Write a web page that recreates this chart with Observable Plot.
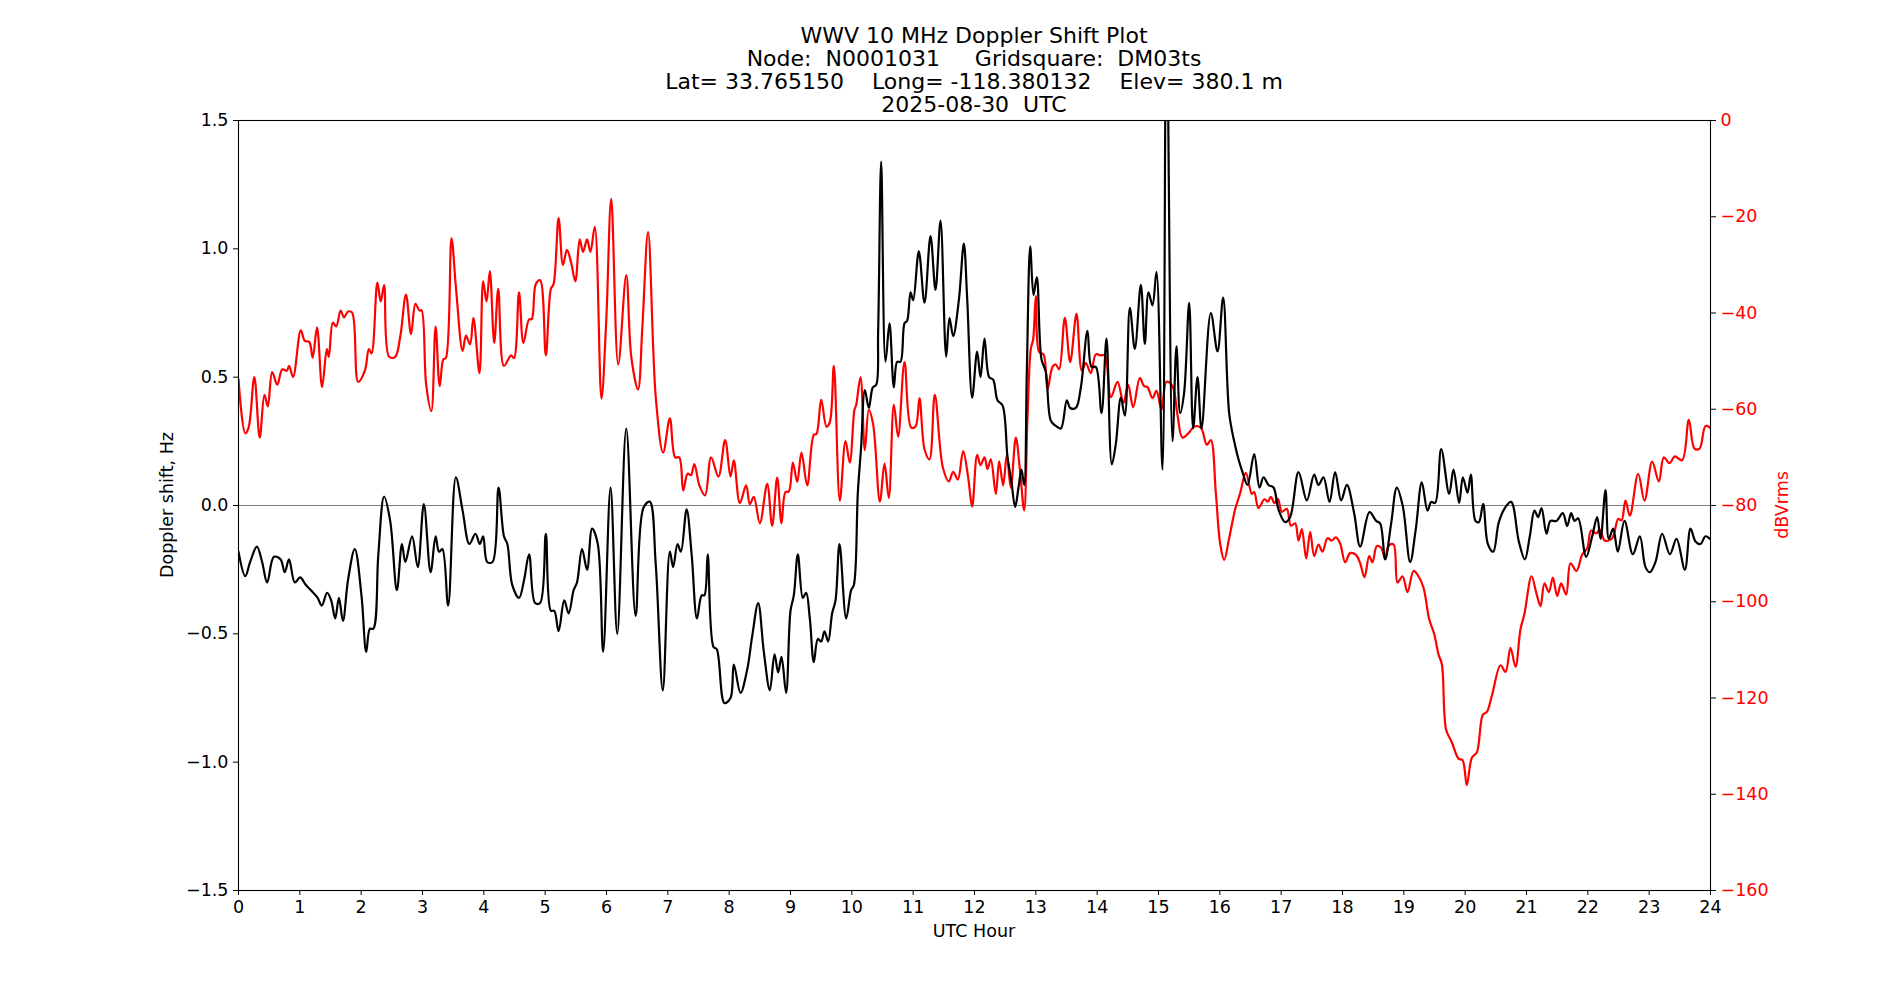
<!DOCTYPE html>
<html>
<head>
<meta charset="utf-8">
<script src="https://cdn.jsdelivr.net/npm/d3@7"></script>
<script src="https://cdn.jsdelivr.net/npm/@observablehq/plot@0.6"></script>
<style>
  html, body { margin: 0; padding: 0; background: white; }
  #wrap { position: relative; width: 1900px; height: 1000px; font-family: "DejaVu Sans", sans-serif; }
  #title { position: absolute; left: 974px; top: 23.6px; transform: translateX(-50%); white-space: pre; text-align: center; font-size: 22px; line-height: 23px; color: black; }
  .lab { position: absolute; white-space: pre; font-size: 17.5px; transform: translate(-50%, -50%); }
  .rot { transform: translate(-50%, -50%) rotate(-90deg); }
</style>
</head>
<body>
<div id="wrap">
  <div id="chart"></div>
  <div id="title"></div>
  <div class="lab rot" id="ylab" style="left:167px; top:505px;"></div>
  <div class="lab rot" id="y2lab" style="left:1782px; top:505px; color:red;"></div>
  <div class="lab" id="xlab" style="left:974px; top:931px;"></div>
</div>
<script>
// ---- Text ----
const titleLines = [
  "WWV 10 MHz Doppler Shift Plot",
  "Node:  N0001031     Gridsquare:  DM03ts",
  "Lat= 33.765150    Long= -118.380132    Elev= 380.1 m",
  "2025-08-30  UTC"
];
const xLabel = "UTC Hour";
const yLabel = "Doppler shift, Hz";
const y2Label = "dBVrms";

// ---- Tick values ----
const hourTicks = [0,1,2,3,4,5,6,7,8,9,10,11,12,13,14,15,16,17,18,19,20,21,22,23,24];
const hzTicks = [-1.5,-1.0,-0.5,0.0,0.5,1.0,1.5];
const dbTicks = [0,-20,-40,-60,-80,-100,-120,-140,-160];

// ---- Doppler shift series: [UTC hour, Hz] ----
const dopplerSeries = [
[0.00,-0.18],[0.11,-0.275],[0.19,-0.22],[0.30,-0.16],[0.385,-0.22],[0.467,-0.30],[0.577,-0.20],[0.687,-0.21],[0.753,-0.26],[0.824,-0.21],[0.918,-0.30],[1.005,-0.28],[1.099,-0.31],[1.181,-0.33],[1.291,-0.36],[1.357,-0.39],[1.445,-0.34],[1.511,-0.37],[1.577,-0.44],[1.637,-0.36],[1.703,-0.45],[1.786,-0.29],[1.896,-0.17],[2.005,-0.35],[2.082,-0.57],[2.143,-0.48],[2.198,-0.48],[2.280,-0.19],[2.374,0.035],[2.473,-0.06],[2.582,-0.33],[2.665,-0.15],[2.720,-0.22],[2.830,-0.12],[2.923,-0.24],[3.022,0.005],[3.132,-0.26],[3.214,-0.12],[3.269,-0.18],[3.324,-0.17],[3.418,-0.39],[3.544,0.11],[3.654,-0.02],[3.764,-0.15],[3.863,-0.11],
[3.934,-0.15],[3.989,-0.12],[4.055,-0.22],[4.142,-0.22],[4.240,0.07],[4.328,-0.12],[4.383,-0.15],[4.464,-0.31],[4.574,-0.36],[4.656,-0.29],[4.738,-0.19],[4.836,-0.38],[4.918,-0.38],[5.011,-0.11],[5.093,-0.41],[5.148,-0.41],[5.219,-0.49],[5.311,-0.37],[5.383,-0.42],[5.464,-0.33],[5.519,-0.30],[5.601,-0.17],[5.683,-0.25],[5.765,-0.09],[5.858,-0.15],[5.945,-0.57],[6.066,0.07],[6.175,-0.50],[6.322,0.30],[6.475,-0.43],[6.601,-0.01],[6.705,0.015],[6.803,-0.23],[6.918,-0.72],[7.033,-0.18],[7.087,-0.24],[7.158,-0.15],[7.213,-0.18],[7.306,-0.015],[7.388,-0.19],[7.475,-0.44],[7.552,-0.35],[7.596,-0.35],[7.650,-0.19],[7.743,-0.55],[7.798,-0.56],[7.923,-0.77],
[8.022,-0.75],[8.076,-0.62],[8.185,-0.73],[8.293,-0.64],[8.375,-0.51],[8.473,-0.38],[8.565,-0.57],[8.663,-0.72],[8.739,-0.58],[8.799,-0.65],[8.853,-0.59],[8.929,-0.73],[9.000,-0.41],[9.054,-0.35],[9.120,-0.19],[9.201,-0.36],[9.255,-0.34],[9.315,-0.44],[9.380,-0.61],[9.446,-0.52],[9.500,-0.53],[9.554,-0.49],[9.614,-0.53],[9.679,-0.42],[9.734,-0.37],[9.799,-0.15],[9.908,-0.44],[9.989,-0.33],[10.033,-0.31],[10.098,0.05],[10.152,0.23],[10.212,0.45],[10.277,0.38],[10.342,0.46],[10.397,0.47],[10.429,0.68],[10.478,1.34],[10.549,0.56],[10.614,0.71],[10.685,0.46],[10.739,0.56],[10.793,0.56],[10.859,0.71],[10.902,0.72],[10.957,0.83],[11.000,0.80],[11.092,0.99],[11.185,0.79],[11.283,1.05],[11.364,0.84],[11.446,1.11],[11.538,0.58],[11.592,0.73],[11.652,0.66],[11.745,0.80],[11.826,1.02],[11.880,0.81],[11.962,0.42],[12.043,0.60],[12.098,0.50],[12.163,0.65],
[12.239,0.50],[12.304,0.49],[12.375,0.41],[12.457,0.39],[12.538,0.19],[12.603,0.09],[12.663,-0.006],[12.717,0.07],[12.766,0.14],[12.810,0.08],[12.853,0.52],[12.908,1.01],[12.962,0.82],[13.016,0.89],[13.092,0.57],[13.163,0.52],[13.245,0.33],[13.326,0.31],[13.408,0.30],[13.505,0.41],[13.560,0.38],[13.652,0.38],[13.734,0.46],[13.842,0.68],[13.908,0.54],[13.978,0.54],[14.071,0.36],[14.152,0.65],[14.239,0.16],[14.304,0.24],[14.386,0.42],[14.451,0.35],[14.533,0.77],[14.614,0.61],[14.712,0.86],[14.777,0.63],[14.837,0.83],[14.902,0.78],[14.967,0.91],[15.065,0.14],[15.130,2.0],[15.228,0.25],[15.293,0.62],[15.353,0.36],[15.418,0.44],[15.500,0.79],[15.565,0.30],[15.636,0.50],[15.701,0.30],[15.853,0.75],[15.962,0.60],[16.054,0.81],[16.152,0.36],[16.234,0.25],
[16.304,0.18],[16.370,0.13],[16.451,0.08],[16.560,0.20],[16.647,0.07],[16.712,0.11],[16.793,0.08],[16.875,0.07],[16.957,-0.016],[17.065,-0.065],[17.147,-0.045],[17.283,0.13],[17.418,0.02],[17.538,0.12],[17.609,0.08],[17.690,0.11],[17.788,0.014],[17.880,0.13],[17.978,0.02],[18.071,0.08],[18.190,-0.03],[18.288,-0.16],[18.440,-0.026],[18.549,-0.06],[18.614,-0.07],[18.696,-0.21],[18.793,-0.07],[18.886,0.07],[18.984,-0.004],[19.103,-0.22],[19.196,-0.09],[19.293,0.09],[19.386,-0.02],[19.446,0.014],[19.511,0.01],[19.609,0.22],[19.739,0.045],[19.810,0.14],[19.902,0.01],[19.962,0.11],[20.038,0.05],[20.092,0.12],
[20.168,-0.06],[20.223,-0.065],[20.293,0.006],[20.370,-0.15],[20.457,-0.18],[20.549,-0.065],[20.658,-0.006],[20.750,0.014],[20.875,-0.14],[20.973,-0.21],[21.054,-0.12],[21.130,-0.02],[21.190,-0.045],[21.245,-0.01],[21.326,-0.11],[21.391,-0.06],[21.489,-0.06],[21.592,-0.03],[21.663,-0.08],[21.728,-0.03],[21.783,-0.06],[21.842,-0.05],[21.973,-0.20],[22.071,-0.12],[22.152,-0.045],[22.207,-0.13],[22.288,0.06],[22.342,-0.13],[22.413,-0.09],[22.489,-0.18],[22.598,-0.06],[22.734,-0.19],[22.848,-0.12],[22.940,-0.24],[23.011,-0.26],[23.103,-0.22],[23.212,-0.11],[23.337,-0.19],[23.446,-0.13],[23.582,-0.25],[23.674,-0.09],[23.755,-0.14],[23.837,-0.15],[23.918,-0.12],[23.989,-0.13]
];

// ---- Signal level series: [UTC hour, dBVrms] ----
const levelSeries = [
[0.000,-53.8],[0.110,-65],[0.165,-63.8],[0.258,-53.3],[0.346,-65.9],[0.423,-57],[0.478,-59.4],[0.549,-52.3],[0.632,-54.9],[0.714,-51.7],[0.786,-52],[0.824,-51],[0.890,-53.3],[1.016,-43.6],[1.082,-45.8],[1.154,-46],[1.209,-49.3],[1.280,-43],[1.363,-55.4],[1.440,-47.5],[1.473,-49.1],[1.538,-42],[1.593,-42.8],[1.665,-39.5],[1.720,-40.9],[1.786,-39.7],[1.852,-39.9],[1.951,-54.3],[2.060,-52],[2.126,-47.5],[2.170,-48.4],[2.264,-33.7],[2.319,-37.6],[2.374,-34.2],[2.456,-49.1],[2.555,-49.1],[2.637,-44.9],[2.731,-36.2],[2.813,-44.4],[2.885,-38.1],[2.951,-39.5],[2.984,-39.4],[3.060,-54.9],[3.143,-60.4],[3.214,-42.8],[3.280,-55.2],[3.341,-49.6],[3.379,-49.4],[3.473,-24.5],[3.544,-34.5],[3.654,-47.9],[3.709,-44.7],[3.775,-46.5],[3.830,-41],[3.929,-52.5],
[3.989,-33.4],[4.044,-37.6],[4.098,-31.3],[4.169,-46.2],[4.235,-35],[4.328,-51],[4.443,-48.8],[4.492,-49.4],[4.574,-35.7],[4.645,-46.2],[4.738,-41.3],[4.781,-41.3],[4.847,-34],[4.918,-33.2],[5.011,-48.8],[5.093,-35],[5.137,-34],[5.219,-20.3],[5.290,-30],[5.355,-26.9],[5.421,-29.4],[5.492,-33.4],[5.563,-24.7],[5.617,-27.3],[5.683,-24.7],[5.738,-27.3],[5.809,-22.1],[5.918,-57.8],[5.995,-41.8],[6.077,-16.3],[6.191,-50.7],[6.322,-32.1],[6.404,-49.1],[6.514,-55.9],[6.585,-42.8],[6.678,-23.2],[6.803,-57.5],[6.923,-69],[7.033,-61.9],[7.120,-70],[7.186,-70],[7.251,-76.9],[7.322,-73.4],[7.377,-73.7],[7.432,-71.4],[7.514,-75.8],[7.607,-77.9],[7.705,-70],[7.825,-74],[7.934,-66.4],[8.022,-74],
[8.076,-70.6],[8.174,-79.5],[8.277,-75.8],[8.337,-79.7],[8.402,-78.2],[8.500,-83.7],[8.620,-75.5],[8.701,-84.2],[8.783,-74.2],[8.853,-83.7],[8.918,-77.2],[8.973,-77.1],[9.038,-71.1],[9.109,-75.1],[9.179,-69],[9.272,-75.8],[9.380,-65.3],[9.424,-65.1],[9.500,-58],[9.587,-63.6],[9.641,-62.7],[9.707,-51],[9.804,-79],[9.897,-66.6],[9.967,-71.1],[10.043,-60.1],[10.071,-59.1],[10.141,-53.3],[10.212,-68.5],[10.277,-60.1],[10.348,-63.2],[10.457,-79.2],[10.533,-71.3],[10.603,-78.4],[10.685,-59.1],[10.755,-65.7],[10.859,-50.2],[10.967,-63.8],[11.038,-63.6],[11.103,-57.7],[11.185,-68.3],[11.266,-70.4],[11.353,-57],[11.484,-72.1],[11.582,-75],[11.652,-73],[11.728,-74.6],[11.815,-68.7],[11.897,-74.2],[11.962,-80.2],[12.043,-69.5],[12.098,-71.6],[12.163,-70],
[12.212,-72.4],[12.266,-70.4],[12.348,-77.6],[12.402,-70.8],[12.467,-75.8],[12.527,-69.5],[12.592,-76.3],[12.674,-65.9],[12.745,-73.2],[12.810,-81],[12.864,-61.7],[12.918,-47.5],[12.957,-45.4],[13.000,-36.5],[13.054,-48.1],[13.125,-48.6],[13.190,-55.9],[13.272,-51.2],[13.326,-50.7],[13.380,-51.7],[13.473,-41],[13.560,-50.2],[13.663,-40.2],[13.750,-52],[13.815,-50.4],[13.897,-52.5],[13.978,-48.6],[14.060,-48.8],[14.125,-48.8],[14.223,-57.5],[14.332,-54.3],[14.429,-58.7],[14.505,-54.9],[14.587,-59.6],[14.696,-53.5],[14.766,-55.2],[14.821,-55.4],[14.902,-57.7],[14.967,-56.2],[15.049,-60.1],[15.130,-54.3],[15.228,-55.2],[15.310,-61.2],[15.391,-65.9],[15.500,-64.8],[15.582,-63.6],[15.690,-63.8],[15.788,-67.4],[15.853,-66.4],[15.935,-77.4],[16.005,-87.9],[16.071,-91.3],[16.152,-86.8],
[16.250,-80.8],[16.332,-77.4],[16.424,-73.2],[16.522,-77.6],[16.560,-77.2],[16.630,-80.5],[16.728,-78.7],[16.783,-79.2],[16.832,-78.2],[16.891,-79.5],[16.946,-78.6],[17.011,-81.3],[17.092,-80.7],[17.158,-84.2],[17.228,-83.7],[17.283,-87.3],[17.337,-84.9],[17.408,-91],[17.473,-85.5],[17.538,-90.5],[17.609,-88.1],[17.674,-89.6],[17.755,-86.8],[17.826,-87.3],[17.891,-86.6],[17.962,-87.9],[18.043,-91.8],[18.125,-89.9],[18.223,-90.3],[18.288,-92],[18.359,-94.9],[18.435,-90.5],[18.489,-91.8],[18.560,-88.4],[18.630,-88.8],[18.696,-91],[18.750,-88.4],[18.832,-88.1],[18.897,-96],[18.978,-94.7],[19.060,-98],[19.158,-93.6],[19.239,-94.7],[19.321,-97.1],[19.413,-103.6],[19.495,-106.7],[19.565,-110.9],[19.620,-113],[19.690,-126.6],[19.783,-129.2],[19.891,-132.6],[19.957,-132.9],[20.027,-138.1],[20.109,-132.4],[20.190,-131.3],[20.288,-123.5],[20.353,-122.9],
[20.440,-119.3],[20.576,-113.2],[20.658,-114.6],[20.739,-109.6],[20.821,-113.5],[20.902,-105.7],[20.967,-102.5],[21.082,-94.7],[21.163,-98.3],[21.228,-100.9],[21.293,-96.2],[21.364,-98],[21.429,-95],[21.500,-98.8],[21.565,-96.2],[21.647,-98.5],[21.717,-92],[21.815,-93.6],[21.908,-90.2],[21.989,-88.9],[22.054,-85.2],[22.136,-85.8],[22.196,-85],[22.277,-87.3],[22.397,-86.8],[22.495,-82.8],[22.549,-83.1],[22.614,-79],[22.685,-82.1],[22.821,-73.4],[22.924,-79],[23.049,-70.9],[23.158,-75],[23.239,-70],[23.332,-71.2],[23.418,-69.8],[23.538,-70.6],[23.647,-62.2],[23.739,-68.2],[23.821,-68.2],[23.918,-63.5],[23.989,-63.8]
];

// right axis (dB, -160..0) shares the left axis (Hz, -1.5..1.5) scale
const hzDomain = [-1.5, 1.5];
const dbDomain = [-160, 0];
const dbToHz = d3.scaleLinear().domain(dbDomain).range(hzDomain);
const minus = s => String(s).replace("-", "\u2212");

const chart = Plot.plot({
  width: 1900,
  height: 1000,
  marginLeft: 238,
  marginRight: 190,
  marginTop: 120,
  marginBottom: 110,
  style: {fontFamily: "'DejaVu Sans', sans-serif", fontSize: "17.5px", background: "white", color: "black", overflow: "visible"},
  x: {domain: [0, 24]},
  y: {domain: hzDomain},
  marks: [
    Plot.ruleY([0], {stroke: "#808080", strokeWidth: 1}),
    Plot.line(levelSeries, {x: d => d[0], y: d => dbToHz(d[1]), stroke: "red", strokeWidth: 2.2, curve: "catmull-rom", clip: true}),
    Plot.line(dopplerSeries, {x: d => d[0], y: d => d[1], stroke: "black", strokeWidth: 2.2, curve: "catmull-rom", clip: true}),
    Plot.frame({stroke: "black", strokeWidth: 1.1}),
    Plot.axisX({ticks: hourTicks, tickSize: 5, tickPadding: 5, label: null, tickFormat: d => String(d)}),
    Plot.axisY({anchor: "left", ticks: hzTicks, tickSize: 5, tickPadding: 5, label: null, tickFormat: d => minus(d.toFixed(1))}),
    Plot.axisY({anchor: "right", ticks: dbTicks.map(dbToHz), tickSize: 5, tickPadding: 5, label: null, fill: "red", stroke: "black",
      tickFormat: d => minus(Math.round(dbToHz.invert(d)))})
  ]
});
document.getElementById("chart").appendChild(chart);
document.getElementById("title").textContent = titleLines.join("\n");
document.getElementById("ylab").textContent = yLabel;
document.getElementById("y2lab").textContent = y2Label;
document.getElementById("xlab").textContent = xLabel;
</script>
</body>
</html>
